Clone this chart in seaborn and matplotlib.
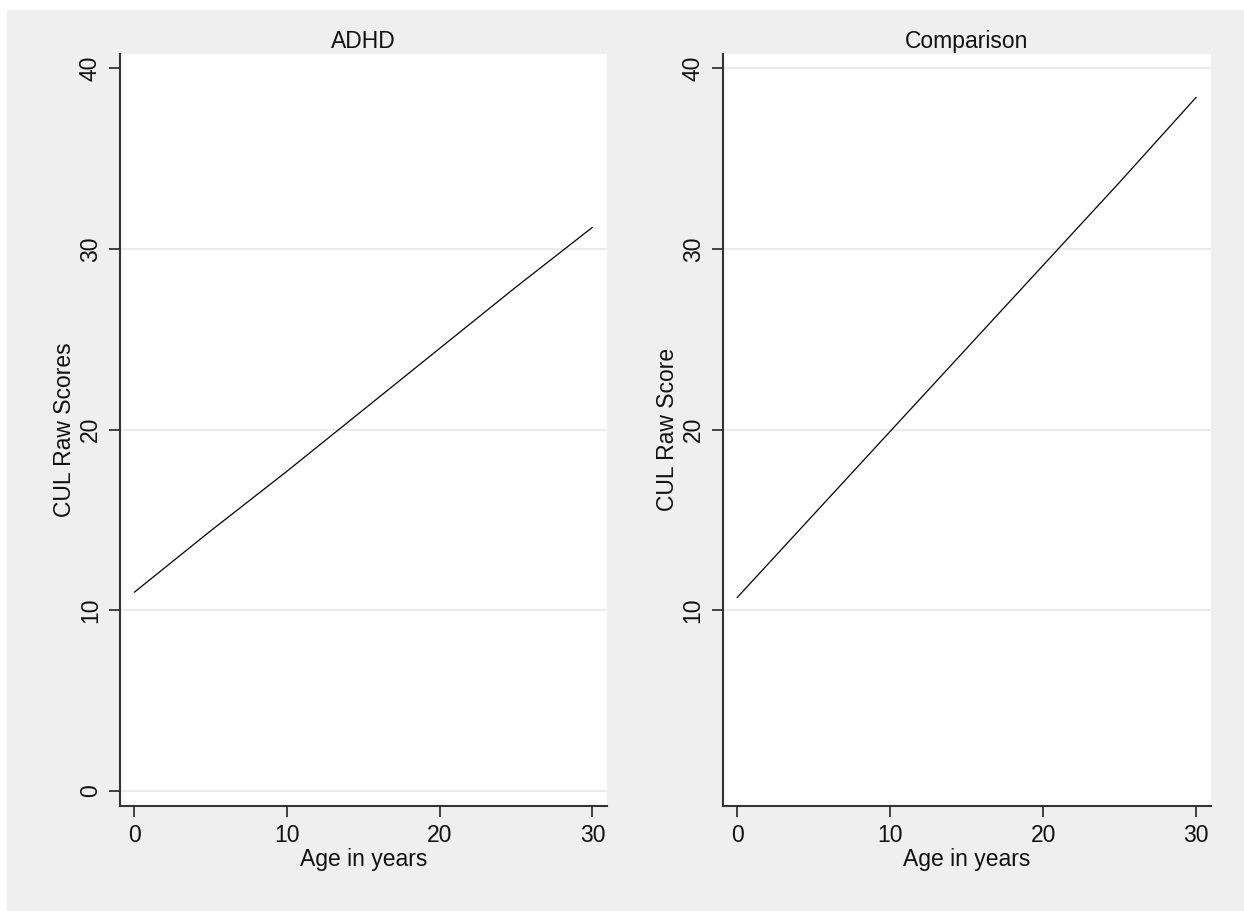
import matplotlib
matplotlib.use("Agg")
import matplotlib.pyplot as plt
import seaborn as sns
import pandas as pd
from matplotlib.patches import Rectangle

# Data
ages = [0, 5, 10, 15, 20, 25, 30]
adhd_scores = [11.0, 14.4, 17.7, 21.1, 24.5, 27.9, 31.2]
comparison_scores = [10.7, 15.3, 19.9, 24.5, 29.1, 33.7, 38.4]
panel_titles = ["ADHD", "Comparison"]
y_labels = ["CUL Raw Scores", "CUL Raw Score"]
x_ticks = [0, 10, 20, 30]
y_ticks_left = [0, 10, 20, 30, 40]
y_ticks_right = [10, 20, 30, 40]

sns.set_theme(style="white")
plt.rcParams['font.family'] = ['Liberation Sans', 'DejaVu Sans']

W, H = 1244, 911
fig = plt.figure(figsize=(W / 100, H / 100), dpi=100, facecolor="white")
fig.patches.append(Rectangle((7 / W, -0.01), 1.02, 1.01 - 10 / H, transform=fig.transFigure,
                             facecolor="#efefef", edgecolor="none", zorder=-10))

bottom = 1 - 805.7 / H
top = 1 - 54 / H
axL = fig.add_axes([120 / W, bottom, (606.7 - 120) / W, top - bottom])
axR = fig.add_axes([722.7 / W, bottom, (1210.5 - 722.7) / W, top - bottom])

series = [adhd_scores, comparison_scores]
yticks = [y_ticks_left, y_ticks_right]
grid_vals = [[0, 10, 20, 30], [10, 20, 30, 40]]

for ax, ys, title, ylab, yt, gv in zip([axL, axR], series, panel_titles, y_labels, yticks, grid_vals):
    df = pd.DataFrame({"age": ages, "score": ys})
    ax.set_facecolor("white")
    for g in gv:
        ax.axhline(g, color="#e8e8e8", lw=1.3, zorder=0)
    sns.lineplot(data=df, x="age", y="score", ax=ax, color="black", lw=0.9, zorder=3)
    ax.set_xlim(-0.94, 30.94)
    ax.set_ylim(-0.82, 40.8)
    ax.set_xticks(x_ticks)
    ax.set_yticks(yt)
    ax.set_xticklabels([str(t) for t in x_ticks], fontsize=16.5)
    ax.set_yticklabels([str(t) for t in yt], fontsize=16.5, rotation=90, va="center")
    ax.tick_params(axis="both", direction="out", length=8, width=1.3, color="#333333",
                   bottom=True, left=True, labelcolor="#111111", pad=5)
    for s in ["top", "right"]:
        ax.spines[s].set_visible(False)
    for s in ["left", "bottom"]:
        ax.spines[s].set_visible(True)
        ax.spines[s].set_color("#333333")
        ax.spines[s].set_linewidth(1.5)
    ax.set_xlabel("Age in years", fontsize=16.5, color="#111111", labelpad=1)
    ax.set_ylabel(ylab, fontsize=16.5, color="#111111", labelpad=2)
    ax.set_title(title, fontsize=16.5, color="#111111", pad=4)
    ax.grid(False)

fig.savefig("out.png", dpi=100, facecolor=fig.get_facecolor())
